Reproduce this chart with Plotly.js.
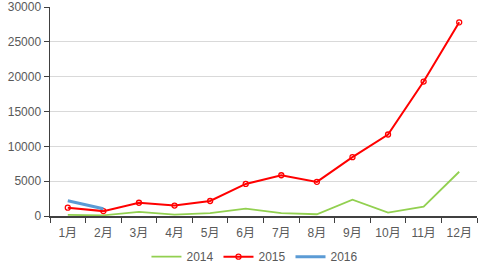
<!DOCTYPE html>
<html><head><meta charset="utf-8">
<script src="https://cdn.plot.ly/plotly-3.0.1.min.js"></script>
<style>html,body{margin:0;padding:0;background:#fff}#c{width:488px;height:275px}</style>
</head><body><div id="c"></div>
<script>
const months = ["1月","2月","3月","4月","5月","6月","7月","8月","9月","10月","11月","12月"];
const s2014 = [150,100,600,200,400,1050,400,250,2350,500,1350,6350];
const s2015 = [1200,700,1900,1500,2150,4600,5850,4900,8450,11700,19300,27800];
const s2016 = [2200,1050];
const yTicks = [0,5000,10000,15000,20000,25000,30000];

const font = "Liberation Sans, Arial, Noto Sans CJK SC, sans-serif";
const traces = [
  {x: months, y: s2014, name: "2014", type: "scatter", mode: "lines",
   line: {color: "#92d050", width: 1.8}},
  {x: months, y: s2015, name: "2015", type: "scatter", mode: "lines+markers",
   line: {color: "#ff0000", width: 2},
   marker: {symbol: "circle-open", size: 5, color: "#ff0000", line: {width: 1.3}}},
  {x: months.slice(0, s2016.length), y: s2016, name: "2016", type: "scatter", mode: "lines",
   line: {color: "#5b9bd5", width: 3}}
];
const layout = {
  width: 488, height: 275,
  margin: {l: 50, r: 11, t: 7, b: 59, autoexpand: false},
  paper_bgcolor: "#fff", plot_bgcolor: "#fff",
  font: {family: font, size: 12, color: "#595959"},
  showlegend: true,
  legend: {orientation: "h", x: 0.48, xanchor: "center", y: -0.125, yanchor: "top",
           font: {size: 12, color: "#595959"}, traceorder: "normal"},
  xaxis: {type: "category", categoryorder: "array", categoryarray: months,
          range: [-0.5, 11.5], showgrid: false, showline: true, linecolor: "#404040", linewidth: 1.5,
          ticks: "outside", tickson: "boundaries", ticklen: 5, tickcolor: "#404040",
          ticklabelstandoff: 5,
          tickfont: {size: 12, color: "#595959"}, zeroline: false, fixedrange: true},
  yaxis: {range: [0, 30000], tickvals: yTicks, ticktext: yTicks.map(String),
          showgrid: true, gridcolor: "#d9d9d9", gridwidth: 1,
          showline: true, linecolor: "#404040", linewidth: 1.5,
          ticks: "outside", ticklen: 5, tickcolor: "#404040",
          tickfont: {size: 12, color: "#595959"}, zeroline: false, fixedrange: true}
};
Plotly.newPlot("c", traces, layout, {displayModeBar: false, staticPlot: true});
</script></body></html>
